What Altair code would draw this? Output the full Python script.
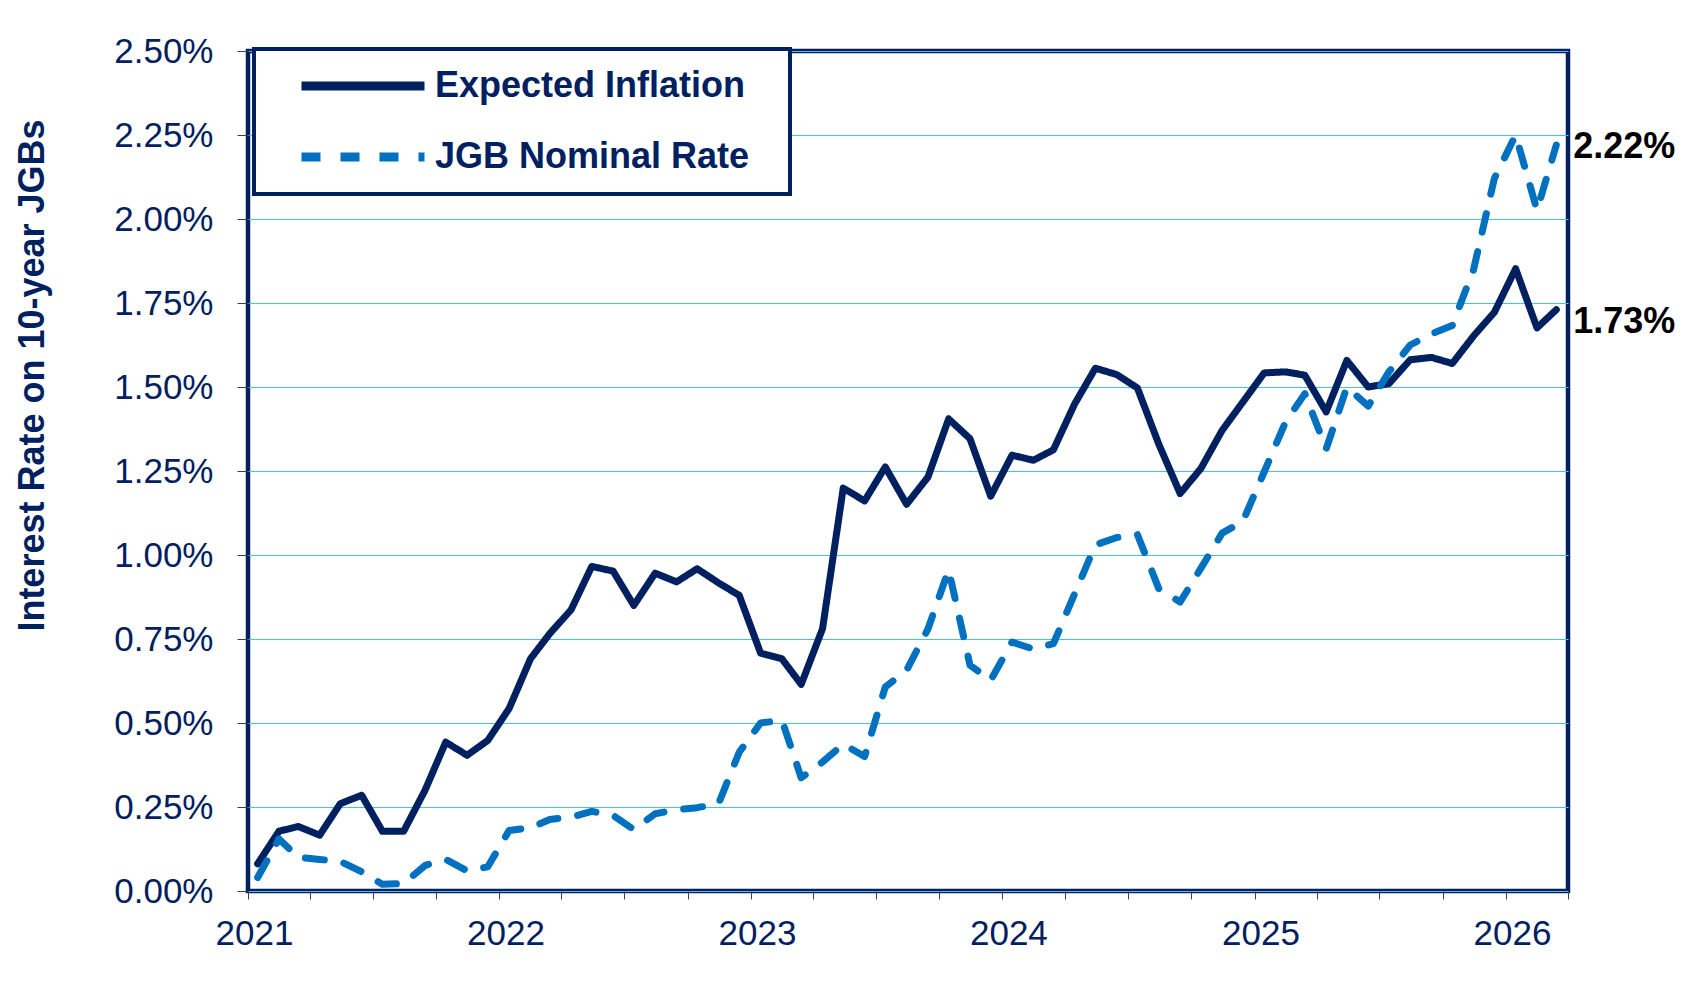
import altair as alt
import pandas as pd

# ---- data (monthly, mid-month observations, Jan 2021 - Mar 2026) ----
month_starts = pd.date_range("2021-01-01", periods=63, freq="MS")
dates = [(m + pd.Timedelta(days=14)).strftime("%Y-%m-%d") for m in month_starts]

expected_inflation = [
    0.081, 0.178, 0.192, 0.166, 0.260, 0.285, 0.178, 0.178, 0.300, 0.443, 0.404, 0.448,
    0.543, 0.691, 0.766, 0.837, 0.966, 0.952, 0.850, 0.946, 0.920, 0.959, 0.917, 0.880,
    0.708, 0.691, 0.615, 0.781, 1.199, 1.161, 1.262, 1.151, 1.232, 1.405, 1.346, 1.175,
    1.297, 1.282, 1.313, 1.450, 1.556, 1.537, 1.497, 1.330, 1.183, 1.257, 1.371, 1.455,
    1.542, 1.545, 1.535, 1.426, 1.579, 1.500, 1.510, 1.581, 1.588, 1.570, 1.652, 1.722,
    1.852, 1.676, 1.730,
]

jgb_nominal_rate = [
    0.040, 0.155, 0.100, 0.094, 0.088, 0.057, 0.020, 0.022, 0.076, 0.094, 0.060, 0.072,
    0.180, 0.188, 0.213, 0.220, 0.237, 0.225, 0.183, 0.230, 0.242, 0.248, 0.260, 0.413,
    0.500, 0.508, 0.337, 0.384, 0.437, 0.400, 0.607, 0.657, 0.780, 0.956, 0.672, 0.627,
    0.741, 0.720, 0.736, 0.885, 1.030, 1.052, 1.061, 0.900, 0.860, 0.960, 1.065, 1.100,
    1.247, 1.396, 1.480, 1.316, 1.500, 1.443, 1.545, 1.625, 1.658, 1.683, 1.850, 2.120,
    2.250, 2.026, 2.220,
]

series_names = ["Expected Inflation", "JGB Nominal Rate"]
series_colors = ["#002060", "#0070C0"]
series_dashes = [[1, 0], [19, 20]]
y_ticks = [0, 0.25, 0.5, 0.75, 1.0, 1.25, 1.5, 1.75, 2.0, 2.25, 2.5]

rows = []
for d, v in zip(dates, expected_inflation):
    rows.append({"date": d, "value": v, "series": series_names[0]})
for d, v in zip(dates, jgb_nominal_rate):
    rows.append({"date": d, "value": v, "series": series_names[1]})
df = pd.DataFrame(rows)

last_df = pd.DataFrame({
    "date": [dates[-1], dates[-1]],
    "value": [expected_inflation[-1], jgb_nominal_rate[-1]],
    "series": series_names,
})

FONT = "Liberation Sans"
NAVY = "#002060"

quarter_ticks = []
for yr in range(2021, 2027):
    for mo in (1, 4, 7, 10):
        if yr == 2026 and mo > 4:
            continue
        quarter_ticks.append(alt.DateTime(year=yr, month=mo, date=1, utc=True))

x_enc = alt.X(
    "date:T",
    scale=alt.Scale(
        type="utc",
        domain=[alt.DateTime(year=2021, month=1, date=1, utc=True),
                alt.DateTime(year=2026, month=4, date=1, utc=True)],
    ),
    axis=alt.Axis(
        values=quarter_ticks,
        labelExpr="utcmonth(datum.value) == 0 ? utcFormat(datum.value, '%Y') : ''",
        grid=False,
        tickSize=8,
        tickColor="#404040",
        labelPadding=17,
        labelOffset=6,
        labelFontSize=35,
        labelOverlap=False,
        labelFlush=False,
        domain=False,
    ),
    title=None,
)

y_enc = alt.Y(
    "value:Q",
    scale=alt.Scale(domain=[0, 2.5], nice=False, zero=False),
    axis=alt.Axis(
        values=y_ticks,
        labelExpr="format(datum.value, '.2f') + '%'",
        grid=True,
        gridColor="#3EC3F3",
        gridWidth=1.2,
        tickSize=11,
        tickColor="#404040",
        labelPadding=24,
        labelFontSize=35,
        labelOverlap=False,
        domain=False,
        titleFontSize=36,
        titleFontWeight="bold",
        titleColor=NAVY,
        titleAngle=270,
        titleX=-205,
        titleY=324,
        titleAlign="center",
        titleBaseline="alphabetic",
    ),
    title="Interest Rate on 10-year JGBs",
)

legend_spec = alt.Legend(title=" ", titleOrient="right", titlePadding=24, titleFontSize=1)

lines = alt.Chart(df).mark_line(strokeWidth=7, strokeCap="round", strokeJoin="round").encode(
    x=x_enc,
    y=y_enc,
    color=alt.Color(
        "series:N",
        scale=alt.Scale(domain=series_names, range=series_colors),
        legend=legend_spec,
    ),
    strokeDash=alt.StrokeDash(
        "series:N",
        scale=alt.Scale(domain=series_names, range=series_dashes),
        legend=legend_spec,
    ),
)

label_jgb = alt.Chart(last_df).transform_filter(
    alt.datum.series == series_names[1]
).transform_calculate(
    label="format(datum.value, '.2f') + '%'"
).mark_text(
    align="left", baseline="middle", dx=17, dy=2,
    font=FONT, fontSize=36, fontWeight="bold", color="black",
).encode(x="date:T", y="value:Q", text="label:N")

label_exp = alt.Chart(last_df).transform_filter(
    alt.datum.series == series_names[0]
).transform_calculate(
    label="format(datum.value, '.2f') + '%'"
).mark_text(
    align="left", baseline="middle", dx=17, dy=12,
    font=FONT, fontSize=36, fontWeight="bold", color="black",
).encode(x="date:T", y="value:Q", text="label:N")

chart = alt.layer(lines, label_jgb, label_exp).properties(
    width=1320,
    height=840,
    autosize=alt.AutoSizeParams(type="none"),
    padding={"left": 240, "top": 43, "right": 118, "bottom": 80},
    background="white",
).configure_view(
    stroke=NAVY,
    strokeWidth=4.5,
).configure_axis(
    labelFont=FONT,
    titleFont=FONT,
    labelColor=NAVY,
).configure_legend(
    orient="none",
    legendX=6,
    legendY=-2,
    strokeColor=NAVY,
    strokeWidth=4,
    fillColor="white",
    padding=17,
    symbolType="stroke",
    symbolSize=15129,
    symbolStrokeWidth=9,
    clipHeight=40,
    rowPadding=31,
    labelFont=FONT,
    labelFontSize=36,
    labelFontWeight="bold",
    labelColor=NAVY,
    labelOffset=6,
    symbolOffset=26,
    labelLimit=600,
)

chart.save("out.html", embed_options={"renderer": "svg", "actions": False})
